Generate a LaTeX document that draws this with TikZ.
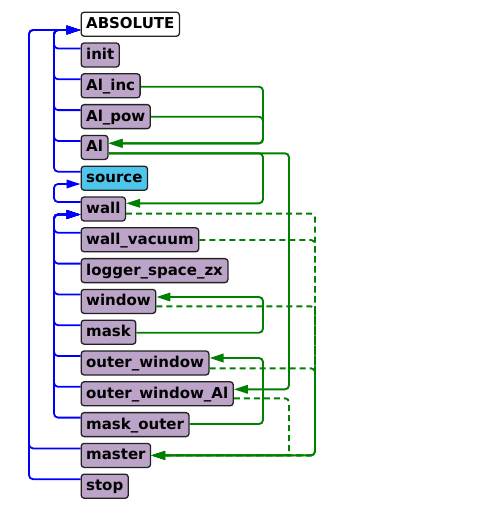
\documentclass[tikz,border=0pt]{standalone}
\usepackage{fontspec}
\setmainfont{DejaVu Sans}
\usetikzlibrary{arrows.meta}
\definecolor{nodefill}{HTML}{BBA4C7}
\definecolor{srcfill}{HTML}{4EC5EB}
\definecolor{edgegreen}{HTML}{008000}
\definecolor{edgeblue}{HTML}{0000FF}
\definecolor{nodeline}{HTML}{222222}
\begin{document}
\begin{tikzpicture}[x=1pt,y=-1pt,
  box/.style={draw=nodeline, line width=1.3pt, rounded corners=3pt, fill=nodefill,
    anchor=west, minimum height=24pt, inner xsep=5pt, inner ysep=0pt,
    text height=11pt, text depth=2.2pt, font=\fontsize{15}{17}\selectfont\bfseries},
  dep/.style={edgeblue, line width=1.8pt, rounded corners=4pt, -{Triangle[length=14pt,width=8.5pt]}},
  use/.style={edgegreen, line width=1.9pt, rounded corners=4pt, -{Triangle[length=14pt,width=8.5pt]}},
  opt/.style={use, dash pattern=on 6pt off 4pt}]
\useasboundingbox (0,0) rectangle (484,512);
% nodes
\node[box, fill=white] (abs) at (80.5,24.2) {ABSOLUTE};
\node[box] (init) at (80.5,55) {init};
\node[box] (alinc) at (80.5,85.8) {Al\_inc};
\node[box] (alpow) at (80.5,116.6) {Al\_pow};
\node[box] (al) at (80.5,147.4) {Al};
\node[box, fill=srcfill] (source) at (80.5,178.2) {source};
\node[box] (wall) at (80.5,209) {wall};
\node[box] (wallvac) at (80.5,239.8) {wall\_vacuum};
\node[box] (logger) at (80.5,270.6) {logger\_space\_zx};
\node[box] (window) at (80.5,301.4) {window};
\node[box] (mask) at (80.5,332.2) {mask};
\node[box] (owin) at (80.5,363) {outer\_window};
\node[box] (owinal) at (80.5,393.8) {outer\_window\_Al};
\node[box] (maskout) at (80.5,424.6) {mask\_outer};
\node[box] (master) at (80.5,455.4) {master};
\node[box] (stop) at (80.5,486.2) {stop};
% trunk corners
\coordinate (tin) at (54,30);
\coordinate (tout) at (29,30);
\coordinate (tsrc) at (54,184);
\coordinate (twall) at (54,214.5);
% blue dependency edges
\foreach \n in {init,alinc,alpow,al,source}
  \draw[dep] ([yshift=6.5pt]\n.west) -| (tin) -- ([yshift=-5.8pt]abs.west);
\foreach \n in {master,stop}
  \draw[dep] ([yshift=7pt]\n.west) -| (tout) -- ([yshift=-5.8pt]abs.west);
\draw[dep] ([yshift=7pt]wall.west) -| (tsrc) -- ([yshift=-5.8pt]source.west);
\foreach \n in {wallvac,logger,window,mask,owin,owinal,maskout}
  \draw[dep] ([yshift=7pt]\n.west) -| (twall) -- ([yshift=-5.5pt]wall.west);
% green edges
\coordinate (ga) at (263,143.3);
\coordinate (gw) at (263,203.3);
\coordinate (gowa) at (289,389.3);
\coordinate (gwin) at (263,297);
\coordinate (gow) at (263,358);
\coordinate (gm) at (315,455.4);
\coordinate (gm2) at (289,455.4);
\draw[use] ([yshift=-0.9pt]alinc.east) -| (ga) -- ([yshift=4.1pt]al.east);
\draw[use] ([yshift=-0.1pt]alpow.east) -| (ga) -- ([yshift=4.1pt]al.east);
\draw[use] ([yshift=-5.9pt]al.east) -| (gw) -- ([yshift=5.7pt]wall.east);
\draw[use] ([yshift=-5.9pt]al.east) -| (gowa) -- ([yshift=4.5pt]owinal.east);
\draw[use] ([yshift=-0.5pt]mask.east) -| (gwin) -- ([yshift=4.4pt]window.east);
\draw[use] ([yshift=0.6pt]maskout.east) -| (gow) -- ([yshift=5pt]owin.east);
\draw[opt] ([yshift=-4.6pt]wall.east) -| (gm) -- (master.east);
\draw[opt] ([yshift=-0.2pt]wallvac.east) -| (gm) -- (master.east);
\draw[opt] ([yshift=-5pt]window.east) -| (gm) -- (master.east);
\draw[opt] ([yshift=-5.3pt]owin.east) -| (gm) -- (master.east);
\draw[opt] ([yshift=-4.5pt]owinal.east) -| (gm2) -- (master.east);
\end{tikzpicture}
\end{document}
